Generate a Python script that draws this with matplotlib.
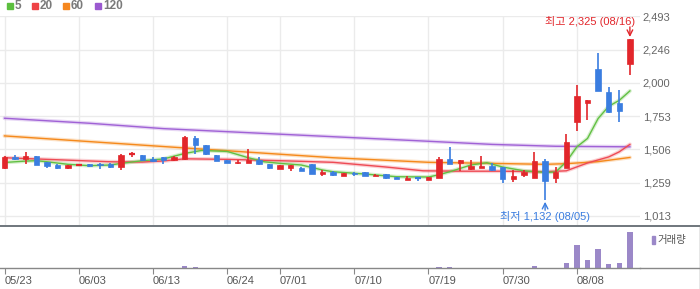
import matplotlib
matplotlib.use("Agg")
import matplotlib.pyplot as plt
from matplotlib.patches import Rectangle
from matplotlib.lines import Line2D

plt.rcParams['font.family'] = ['Liberation Sans', 'Noto Sans CJK KR']

dates = ["05/23", "05/24", "05/27", "05/28", "05/29", "05/30", "05/31",
         "06/03", "06/04", "06/05", "06/07", "06/10", "06/11", "06/12", "06/13", "06/14",
         "06/17", "06/18", "06/19", "06/20", "06/21", "06/24", "06/25", "06/26", "06/27", "06/28",
         "07/01", "07/02", "07/03", "07/04", "07/05", "07/08", "07/09", "07/10", "07/11", "07/12",
         "07/15", "07/16", "07/17", "07/18", "07/19", "07/22", "07/23", "07/24", "07/25", "07/26",
         "07/29", "07/30", "07/31", "08/01", "08/02", "08/05", "08/06", "08/07", "08/08", "08/09",
         "08/12", "08/13", "08/14", "08/16"]

opens = [1370, 1449, 1436, 1456, 1412, 1390, 1370, 1387, 1397, 1400,
         1400, 1377, 1466, 1464, 1436, 1449, 1429, 1434, 1589, 1538,
         1464, 1429, 1407, 1407, 1429, 1397, 1362, 1370, 1370, 1397,
         1320, 1335, 1310, 1328, 1338, 1310, 1323, 1303, 1281, 1298,
         1281, 1296, 1432, 1407, 1360, 1370, 1385, 1377, 1286, 1316,
         1296, 1419, 1296, 1370, 1710, 1853, 2100, 1930, 1848, 2140]
highs = [1455, 1461, 1486, 1458, 1412, 1400, 1392, 1400, 1397, 1407,
         1407, 1473, 1488, 1464, 1449, 1449, 1456, 1604, 1604, 1538,
         1464, 1429, 1429, 1508, 1449, 1397, 1390, 1390, 1377, 1397,
         1350, 1345, 1328, 1338, 1338, 1325, 1323, 1303, 1308, 1298,
         1298, 1449, 1523, 1427, 1427, 1456, 1402, 1377, 1350, 1350,
         1486, 1436, 1377, 1619, 1981, 1870, 2220, 1967, 1944, 2325]
lows = [1362, 1429, 1395, 1390, 1370, 1362, 1362, 1380, 1375, 1362,
        1365, 1355, 1449, 1422, 1410, 1400, 1422, 1429, 1469, 1461,
        1419, 1407, 1400, 1407, 1392, 1362, 1362, 1347, 1347, 1325,
        1310, 1308, 1310, 1308, 1310, 1310, 1288, 1288, 1281, 1273,
        1281, 1296, 1400, 1345, 1352, 1370, 1345, 1259, 1264, 1303,
        1296, 1132, 1259, 1370, 1643, 1722, 1940, 1777, 1710, 2058]
closes = [1446, 1436, 1456, 1392, 1385, 1370, 1390, 1392, 1382, 1392,
          1377, 1464, 1470, 1427, 1422, 1427, 1449, 1597, 1540, 1469,
          1419, 1407, 1414, 1429, 1400, 1370, 1390, 1390, 1347, 1325,
          1335, 1318, 1328, 1320, 1310, 1318, 1296, 1288, 1293, 1293,
          1298, 1432, 1400, 1427, 1382, 1382, 1352, 1288, 1310, 1335,
          1419, 1273, 1338, 1560, 1900, 1870, 1940, 1782, 1791, 2325]
volumes = [5, 5, 5, 5, 5, 5, 5, 5, 5, 5,
           5, 10, 5, 5, 5, 5, 5, 170, 70, 5,
           5, 5, 5, 10, 5, 5, 5, 5, 5, 5,
           5, 5, 5, 5, 5, 5, 5, 5, 5, 5,
           5, 60, 60, 5, 5, 5, 5, 5, 5, 5,
           170, 5, 5, 470, 2270, 800, 1870, 370, 470, 3570]

# moving averages (index, value)
ma5_idx = [0, 2, 3, 4, 6, 8, 10, 11, 13, 15, 17, 18.6, 21, 23, 24.5, 26, 28, 30, 31,
           34, 37, 40, 41, 42, 44, 45.5, 47, 49, 51, 52, 53, 54, 55, 56, 57, 58, 59]
ma5_val = [1409, 1419, 1422, 1414, 1395, 1385, 1390, 1402, 1422, 1435, 1476, 1498, 1491, 1444,
           1414, 1402, 1390, 1353, 1340, 1323, 1303, 1301, 1318, 1340, 1390, 1407, 1375, 1347,
           1335, 1338, 1414, 1525, 1587, 1735, 1826, 1870, 1940]
ma20_idx = [0, 4, 10, 13, 15, 17, 21, 26, 31, 36, 39.5, 43, 47, 51, 53, 55, 57, 58, 59]
ma20_val = [1444, 1432, 1414, 1412, 1420, 1436, 1432, 1422, 1410, 1375, 1347, 1344, 1344,
            1340, 1347, 1405, 1450, 1488, 1543]
ma60_idx = [0, 15, 31, 40, 46, 51, 53, 56, 59]
ma60_val = [1606, 1527, 1444, 1410, 1402, 1395, 1400, 1415, 1446]
ma120_idx = [0, 8, 15, 23, 31, 39, 46, 52, 59]
ma120_val = [1737, 1700, 1660, 1630, 1600, 1570, 1543, 1529, 1525]

price_ticks = [1013, 1259, 1506, 1753, 2000, 2246, 2493]
date_ticks = ["05/23", "06/03", "06/13", "06/24", "07/01", "07/10", "07/19", "07/30", "08/08"]

RED = '#e2262b'
BLUE = '#3a7de0'
GRID = '#ebebeb'
W, H = 700, 289


def fbox(left, top, right, bottom):
    return [left / W, 1 - bottom / H, (right - left) / W, (bottom - top) / H]


fig = plt.figure(figsize=(7, 2.89), dpi=100)
ax = fig.add_axes(fbox(0, 16, 640, 225.5))
axv = fig.add_axes(fbox(0, 226.5, 640, 267.7), sharex=ax)

n = len(dates)
xs = list(range(n))

# moving averages with a soft halo
ma_lines = [(ma120_idx, ma120_val, '#a062d6'), (ma60_idx, ma60_val, '#f5891b'),
            (ma20_idx, ma20_val, '#ee4b55'), (ma5_idx, ma5_val, '#62c043')]
for idx, val, c in ma_lines:
    ax.plot(idx, val, color=c, lw=2.8, alpha=0.25, solid_capstyle='round', zorder=2)
    ax.plot(idx, val, color=c, lw=1.0, zorder=3)

# candles
for i in xs:
    o, h, l, c = opens[i], highs[i], lows[i], closes[i]
    col = RED if c >= o else BLUE
    ax.vlines(i, l, h, color=col, lw=1.2, zorder=4)
    lo, hi = min(o, c), max(o, c)
    if hi - lo < 6:
        ax.hlines((o + c) / 2, i - 0.27, i + 0.27, color=col, lw=1.6, zorder=5)
    else:
        ax.add_patch(Rectangle((i - 0.25, lo), 0.5, hi - lo, facecolor=col,
                               edgecolor=col, lw=0.5, zorder=5))

ax.set_xlim(-4.5 / 10.6, (640 - 4.5) / 10.6)
ax.set_ylim(941, 2496)
ax.set_yticks(price_ticks)
ax.set_yticklabels([f"{v:,}" for v in price_ticks])
ax.yaxis.tick_right()
ax.tick_params(axis='y', length=0, pad=2, labelsize=8, labelcolor='#666666')
ax.tick_params(axis='x', length=0, labelbottom=False)
tick_pos = [dates.index(d) for d in date_ticks]
ax.set_xticks(tick_pos)
ax.grid(True, color=GRID, lw=1)
ax.set_axisbelow(True)
for s in ax.spines.values():
    s.set_visible(False)

# high / low markers
hi_i = highs.index(max(highs))
lo_i = lows.index(min(lows))
ax.annotate('', xy=(hi_i, highs[hi_i] + 15), xytext=(hi_i, highs[hi_i] + 90),
            arrowprops=dict(arrowstyle='->', color=RED, lw=1.0, shrinkA=0, shrinkB=0))
ax.text(hi_i + 0.45, highs[hi_i] + 130, f"최고 {max(highs):,} ({dates[hi_i]})",
        ha='right', va='center', color=RED, fontsize=8)
ax.annotate('', xy=(lo_i, lows[lo_i] - 15), xytext=(lo_i, lows[lo_i] - 78),
            arrowprops=dict(arrowstyle='->', color=BLUE, lw=1.0, shrinkA=0, shrinkB=0))
ax.text(lo_i, lows[lo_i] - 124, f"최저 {min(lows):,} ({dates[lo_i]})",
        ha='center', va='center', color=BLUE, fontsize=8)

# volume
axv.bar(xs, volumes, width=0.5, color='#9b88c8')
axv.set_ylim(0, 4120)
axv.set_yticks([])
axv.set_xticks(tick_pos)
axv.set_xticklabels(date_ticks)
for lab in axv.get_xticklabels():
    lab.set_horizontalalignment('left')
axv.tick_params(axis='x', length=4, color='#888888', pad=2, labelsize=8, labelcolor='#555555')
axv.grid(False)
for s in ['top', 'left', 'right']:
    axv.spines[s].set_visible(False)
axv.spines['bottom'].set_color('#888888')
axv.spines['bottom'].set_linewidth(1.0)

# frame lines
fig.add_artist(Line2D([0, 1], [1 - 225.8 / H, 1 - 225.8 / H], color='#6f767c', lw=1.4,
                      transform=fig.transFigure))
fig.add_artist(Line2D([640 / W, 1], [1 - 267.7 / H, 1 - 267.7 / H], color='#888888', lw=1.0,
                      transform=fig.transFigure))
fig.add_artist(Line2D([699.5 / W, 699.5 / W], [0, 1 - 225.8 / H], color='#888888', lw=1.0,
                      transform=fig.transFigure))

# volume legend
fig.add_artist(Rectangle((652 / W, 1 - 244 / H), 2.5 / W, 8 / H, color='#9b88c8',
                         transform=fig.transFigure))
fig.text(657 / W, 1 - 239.5 / H, "거래량", fontsize=7.5, color='#555555', va='center')

# top legend
legend_items = [("5", '#5cbf3f', 7), ("20", '#ee4346', 32), ("60", '#f5871f', 63),
                ("120", '#9b59d0', 95)]
for name, c, px in legend_items:
    fig.add_artist(Rectangle((px / W, 1 - 9 / H), 6 / W, 6 / H, color=c,
                             transform=fig.transFigure))
    fig.text((px + 8) / W, 1 - 6 / H, name, fontsize=8.5, color='#7a7a7a',
             fontweight='bold', va='center')

fig.savefig('out.png', dpi=100)
